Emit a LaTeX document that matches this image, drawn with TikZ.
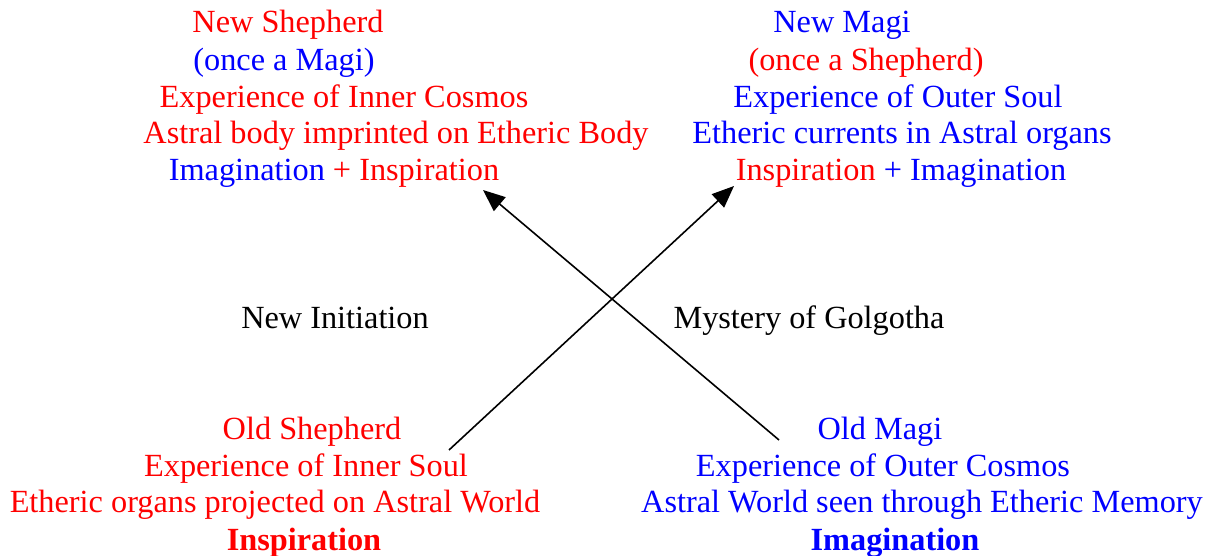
\documentclass[tikz,border=0pt]{standalone}
\usepackage{fontspec}
\setmainfont{Liberation Serif}
\usetikzlibrary{arrows.meta}
\definecolor{tred}{RGB}{255,0,0}
\definecolor{tblue}{RGB}{0,0,255}
\tikzset{
  txt/.style={inner sep=0pt, font=\fontsize{32.3}{38}\selectfont, anchor=base},
  rd/.style={txt, text=tred},
  bl/.style={txt, text=tblue},
  bk/.style={txt, text=black},
  arr/.style={draw=black, line width=1.6pt, -{Triangle[length=22pt,width=18pt]}}
}
\begin{document}
\begin{tikzpicture}[x=1pt,y=-1pt]
\useasboundingbox (0,0) rectangle (1213,556);
% top left
\node[rd] (tl1) at (288,33) {New Shepherd};
\node[bl] (tl2) at (284,71) {(once a Magi)};
\node[rd] (tl3) at (344,108) {Experience of Inner Cosmos};
\node[rd] (tl4) at (396,144) {Astral body imprinted on Etheric Body};
\node[txt] (tl5) at (334,181) {\textcolor{tblue}{Imagination} \textcolor{tred}{+ Inspiration}};
% top right
\node[bl] (tr1) at (842,33) {New Magi};
\node[rd] (tr2) at (866,71) {(once a Shepherd)};
\node[bl] (tr3) at (898,108) {Experience of Outer Soul};
\node[bl] (tr4) at (902,144) {Etheric currents in Astral organs};
\node[txt] (tr5) at (901,181) {\textcolor{tred}{Inspiration} \textcolor{tblue}{+ Imagination}};
% middle
\node[bk] (m1) at (335,328) {New Initiation};
\node[bk] (m2) at (809,328) {Mystery of Golgotha};
% bottom left
\node[rd] (bl1) at (312,439) {Old Shepherd};
\node[rd] (bl2) at (306,476) {Experience of Inner Soul};
\node[rd] (bl3) at (275,512) {Etheric organs projected on Astral World};
\node[rd, font=\fontsize{32.3}{38}\selectfont\bfseries] (bl4) at (304,550) {Inspiration};
% bottom right
\node[bl] (br1) at (880,439) {Old Magi};
\node[bl] (br2) at (883,476) {Experience of Outer Cosmos};
\node[bl] (br3) at (922,512) {Astral World seen through Etheric Memory};
\node[bl, font=\fontsize{32.3}{38}\selectfont\bfseries] (br4) at (895,550) {Imagination};
% arrows
\coordinate (a1s) at (449,450);
\coordinate (a1e) at (734,186);
\coordinate (a2s) at (779,440);
\coordinate (a2e) at (483,190);
\draw[arr] (a1s) -- (a1e);
\draw[arr] (a2s) -- (a2e);
\end{tikzpicture}
\end{document}
